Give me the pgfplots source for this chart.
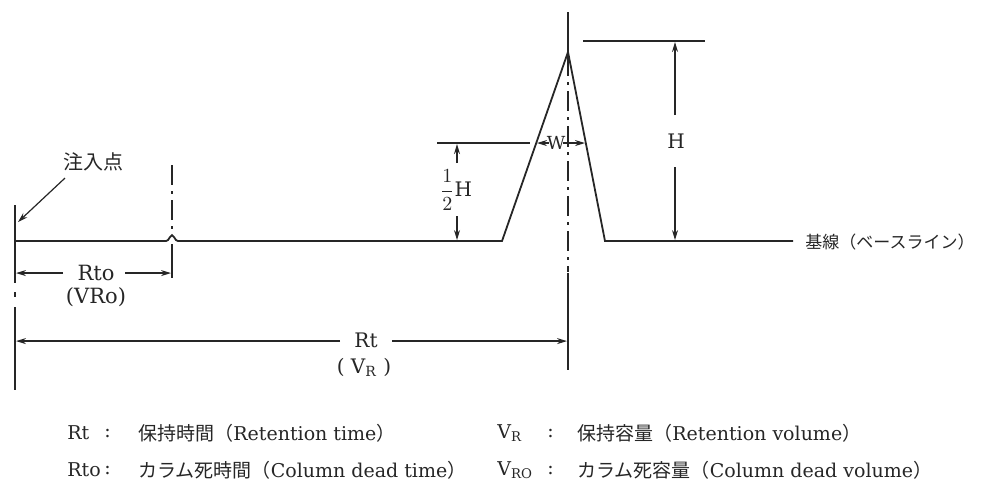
\documentclass[border=0pt]{standalone}
\usepackage{pgfplots}
\pgfplotsset{compat=1.18}
\usetikzlibrary{arrows.meta}
\usepackage{fontspec}
\setmainfont{DejaVu Serif}
\newfontfamily\jp{Noto Sans CJK JP}
\definecolor{ink}{HTML}{262626}

\begin{document}
\begin{tikzpicture}[
  dim/.style={draw=ink, line width=0.6pt},
  arr/.style={dim, -{Stealth[length=5pt,width=3pt]}},
  cl/.style={draw=ink, line width=0.7pt, dash pattern=on 10pt off 3pt on 1.5pt off 3pt},
  lab/.style={text=ink, inner sep=0pt, font=\fontsize{10}{12}\selectfont},
  leg/.style={text=ink, inner sep=0pt, anchor=west, font=\fontsize{9.5}{11}\selectfont}
]
\begin{axis}[
  scale only axis, width=494pt, height=242.5pt,
  xmin=0, xmax=988, ymin=0, ymax=485, y dir=reverse,
  hide axis, clip=false
]
% frame of the drawing area
\addplot[draw=none, forget plot] coordinates {(0,0) (988,485)};

% chromatogram: injection, dead-time blip, triangular peak, baseline
\addplot[ink, line width=0.9pt, mark=none] coordinates {
  (15,241) (166,241) (168,240) (170,237) (172,235) (174,237) (176,240) (178,241)
  (502,241) (568,52) (605,241) (793,241)};

% injection point line
\draw[ink, line width=0.9pt] (axis cs:15,205) -- (axis cs:15,283);
\draw[ink, line width=0.9pt] (axis cs:15,292) -- (axis cs:15,297);
\draw[ink, line width=0.9pt] (axis cs:15,307) -- (axis cs:15,390);

% dead-time marker
\draw[cl] (axis cs:172,165) -- (axis cs:172,236);
\draw[ink, line width=0.7pt] (axis cs:172,244) -- (axis cs:172,278);

% peak centre line
\draw[ink, line width=0.9pt] (axis cs:568,12) -- (axis cs:568,52);
\draw[cl] (axis cs:568,56) -- (axis cs:568,272);
\draw[ink, line width=0.8pt] (axis cs:568,273) -- (axis cs:568,370);

% injection label
\node[lab, font=\fontsize{10}{12}\selectfont\jp] at (axis cs:93,162) {注入点};
\draw[arr] (axis cs:65,178) -- (axis cs:18,222);

% Rto dimension
\draw[arr] (axis cs:63,273) -- (axis cs:16,273);
\draw[arr] (axis cs:125,273) -- (axis cs:171,273);
\node[lab, font=\fontsize{10.5}{12}\selectfont] at (axis cs:96,273) {Rto};
\node[lab, font=\fontsize{10.5}{12}\selectfont] at (axis cs:96,297) {(VRo)};

% Rt dimension
\draw[arr] (axis cs:340,341) -- (axis cs:16,341);
\draw[arr] (axis cs:392,341) -- (axis cs:567,341);
\node[lab] at (axis cs:366,340) {Rt};
\node[lab] at (axis cs:364,367) {( V\textsubscript{R} )};

% half height and width
\draw[dim] (axis cs:437,143) -- (axis cs:530,143);
\draw[arr] (axis cs:549,143) -- (axis cs:537,143);
\draw[arr] (axis cs:563,143) -- (axis cs:585,143);
\draw[dim] (axis cs:568,139) -- (axis cs:568,147);
\node[lab, font=\fontsize{9}{10}\selectfont] at (axis cs:556,143) {W};
\draw[arr] (axis cs:457,163) -- (axis cs:457,144);
\draw[arr] (axis cs:457,216) -- (axis cs:457,240);
\node[lab] at (axis cs:456,190) {$\displaystyle\frac{1}{2}$H};

% peak height
\draw[dim] (axis cs:583,41) -- (axis cs:705,41);
\draw[arr] (axis cs:675,115) -- (axis cs:675,42);
\draw[arr] (axis cs:675,167) -- (axis cs:675,240);
\node[lab] at (axis cs:676,141) {H};

% baseline label
\node[leg, font=\fontsize{8.5}{10}\selectfont\jp] at (axis cs:805,242) {基線（ベースライン）};

% key
\node[leg] at (axis cs:67,433) {Rt};
\node[leg] at (axis cs:104,433) {:};
\node[leg] at (axis cs:138,433) {{\jp 保持時間（}Retention time{\jp ）}};
\node[leg] at (axis cs:67,470) {Rto};
\node[leg] at (axis cs:104,470) {:};
\node[leg] at (axis cs:138,470) {{\jp カラム死時間（}Column dead time{\jp ）}};
\node[leg] at (axis cs:497,433) {V\textsubscript{R}};
\node[leg] at (axis cs:547,433) {:};
\node[leg] at (axis cs:577,433) {{\jp 保持容量（}Retention volume{\jp ）}};
\node[leg] at (axis cs:497,470) {V\textsubscript{RO}};
\node[leg] at (axis cs:547,470) {:};
\node[leg] at (axis cs:577,470) {{\jp カラム死容量（}Column dead volume{\jp ）}};
\end{axis}
\end{tikzpicture}
\end{document}
